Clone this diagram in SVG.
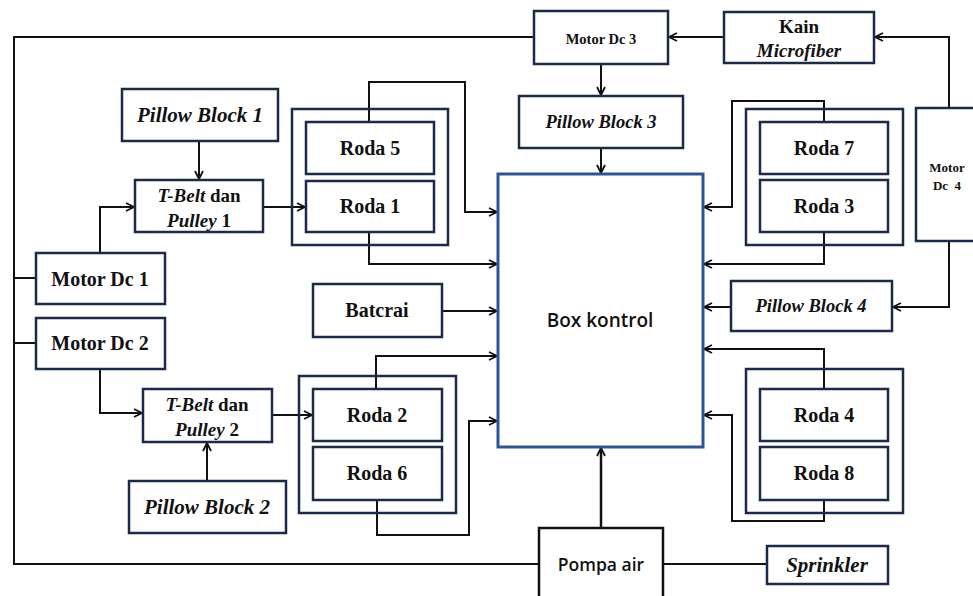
<svg xmlns="http://www.w3.org/2000/svg" width="973" height="596" viewBox="0 0 973 596">
<defs>
<marker id="arr" viewBox="0 0 10 10" refX="9" refY="5" markerWidth="10" markerHeight="10" markerUnits="userSpaceOnUse" orient="auto">
<path d="M1,1 L9,5 L1,9" fill="none" stroke="#111" stroke-width="1.8"/>
</marker>
<style>
.b{fill:#fff;stroke:#1b2a4a;stroke-width:2.5}
.f{fill:none;stroke:#1b2a4a;stroke-width:2.5}
.bk{fill:#fff;stroke:#2a5597;stroke-width:3}
.c{fill:none;stroke:#111;stroke-width:2}
.a{marker-end:url(#arr)}
.t{font-family:"Liberation Serif",serif;font-weight:bold;fill:#111;text-anchor:middle}
.i{font-style:italic}
.s{font-family:"Open Sans","Liberation Sans",sans-serif;font-weight:600;fill:#111;text-anchor:middle}
</style>
</defs>
<rect width="973" height="596" fill="#fff"/>
<g id="connectors">
<path class="c" d="M534,37 H14 V564 H539"/>
<path class="c" d="M14,278 H36 M14,343 H36"/>
<path class="c" d="M663,564 H767"/>
<path class="c a" d="M724,37 H669"/>
<path class="c a" d="M949,108 V37 H875"/>
<path class="c a" d="M601,64 V95"/>
<path class="c a" d="M601,148 V173"/>
<path class="c a" d="M199,141 V179"/>
<path class="c a" d="M100,253 V207 H134"/>
<path class="c a" d="M263,207 H305"/>
<path class="c a" d="M369,122 V82 H465 V212 H497"/>
<path class="c a" d="M369,232 V264 H497"/>
<path class="c a" d="M442,311 H497"/>
<path class="c a" d="M376,389 V356 H497"/>
<path class="c a" d="M377,500 V535 H469 V421 H497"/>
<path class="c a" d="M100,369 V413 H142"/>
<path class="c a" d="M272,415 H312"/>
<path class="c a" d="M207,481 V443"/>
<path class="c a" d="M824,122 V101 H732 V207 H704"/>
<path class="c a" d="M824,232 V264 H704"/>
<path class="c a" d="M731,307 H704"/>
<path class="c a" d="M949,241 V307 H893"/>
<path class="c a" d="M824,389 V349 H704"/>
<path class="c a" d="M824,500 V521 H732 V415 H704"/>
<path class="c a" d="M601,528 V448" style="stroke-width:2.5"/>
</g>
<g id="frame-roda-5-1"><rect class="f" x="292" y="109" width="156" height="136"/></g>
<g id="frame-roda-2-6"><rect class="f" x="299" y="376" width="157" height="137"/></g>
<g id="frame-roda-7-3"><rect class="f" x="746" y="109" width="157" height="136"/></g>
<g id="frame-roda-4-8"><rect class="f" x="746" y="369" width="157" height="144"/></g>
<g id="box-kontrol"><rect class="bk" x="498" y="174" width="205" height="273"/><text class="s" x="600" y="327" font-size="19">Box kontrol</text></g>
<g id="pillow-block-1"><rect class="b" x="122" y="89" width="156" height="52"/><text class="t i" x="200" y="122" font-size="21">Pillow Block 1</text></g>
<g id="t-belt-1"><rect class="b" x="135" y="180" width="128" height="52"/><text class="t" x="199" y="202" font-size="19"><tspan class="i">T-Belt</tspan> dan</text><text class="t" x="199" y="227" font-size="19"><tspan class="i">Pulley</tspan> 1</text></g>
<g id="roda-5"><rect class="b" x="306" y="122" width="128" height="52"/><text class="t" x="370" y="155" font-size="20">Roda 5</text></g>
<g id="roda-1"><rect class="b" x="306" y="181" width="128" height="51"/><text class="t" x="370" y="213" font-size="20">Roda 1</text></g>
<g id="motor-dc-1"><rect class="b" x="36" y="253" width="129" height="51"/><text class="t" x="100" y="286" font-size="20">Motor Dc 1</text></g>
<g id="motor-dc-2"><rect class="b" x="36" y="318" width="129" height="51"/><text class="t" x="100" y="350" font-size="20">Motor Dc 2</text></g>
<g id="batcrai"><rect class="b" x="313" y="284" width="129" height="53"/><text class="t" x="377" y="317" font-size="20">Batcrai</text></g>
<g id="t-belt-2"><rect class="b" x="143" y="389" width="129" height="53"/><text class="t" x="207" y="411" font-size="19"><tspan class="i">T-Belt</tspan> dan</text><text class="t" x="207" y="436" font-size="19"><tspan class="i">Pulley</tspan> 2</text></g>
<g id="pillow-block-2"><rect class="b" x="129" y="481" width="157" height="52"/><text class="t i" x="207" y="514" font-size="21">Pillow Block 2</text></g>
<g id="roda-2"><rect class="b" x="313" y="389" width="129" height="52"/><text class="t" x="377" y="422" font-size="20">Roda 2</text></g>
<g id="roda-6"><rect class="b" x="313" y="447" width="129" height="53"/><text class="t" x="377" y="480" font-size="20">Roda 6</text></g>
<g id="motor-dc-3"><rect class="b" x="534" y="11" width="134" height="53"/><text class="t" x="601" y="44" font-size="14.5">Motor Dc 3</text></g>
<g id="pillow-block-3"><rect class="b" x="519" y="96" width="164" height="52"/><text class="t i" x="601" y="128" font-size="18.5">Pillow Block 3</text></g>
<g id="kain-microfiber"><rect class="b" x="724" y="12" width="150" height="51"/><text class="t" x="799" y="33" font-size="19">Kain</text><text class="t i" x="799" y="57" font-size="19">Microfiber</text></g>
<g id="motor-dc-4"><rect class="b" x="916" y="108" width="70" height="133"/><text class="t" x="947" y="172" font-size="13">Motor</text><text class="t" x="947" y="190" font-size="13" xml:space="preserve">Dc  4</text></g>
<g id="roda-7"><rect class="b" x="760" y="122" width="128" height="52"/><text class="t" x="824" y="155" font-size="20">Roda 7</text></g>
<g id="roda-3"><rect class="b" x="760" y="180" width="128" height="52"/><text class="t" x="824" y="213" font-size="20">Roda 3</text></g>
<g id="pillow-block-4"><rect class="b" x="731" y="281" width="161" height="50"/><text class="t i" x="811" y="312" font-size="18.5">Pillow Block 4</text></g>
<g id="roda-4"><rect class="b" x="760" y="389" width="128" height="52"/><text class="t" x="824" y="422" font-size="20">Roda 4</text></g>
<g id="roda-8"><rect class="b" x="760" y="447" width="128" height="53"/><text class="t" x="824" y="480" font-size="20">Roda 8</text></g>
<g id="pompa-air"><rect class="b" x="539" y="528" width="124" height="80" style="stroke:#111"/><text class="s" x="601" y="571" font-size="17.5">Pompa air</text></g>
<g id="sprinkler"><rect class="b" x="767" y="546" width="121" height="38"/><text class="t i" x="827" y="572" font-size="21">Sprinkler</text></g>
</svg>
